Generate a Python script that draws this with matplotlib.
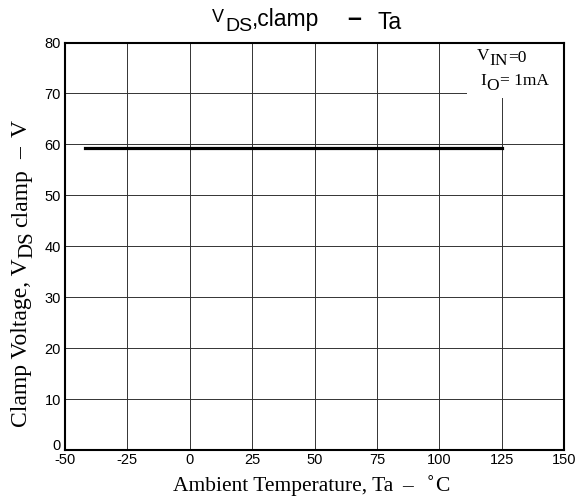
import numpy as np
from matplotlib import pyplot as plt
from matplotlib.patches import Rectangle
from matplotlib.transforms import IdentityTransform

# data
ta = [-42, 125]
vclamp = [59.2, 59.2]
xticks = [-50, -25, 0, 25, 50, 75, 100, 125, 150]
yticks = [0, 10, 20, 30, 40, 50, 60, 70, 80]

W, H = 577, 500
fig = plt.figure(figsize=(W/100, H/100), dpi=100)
ax = fig.add_axes([0.1127, 0.1, 0.8648, 0.815])
rend = fig.canvas.get_renderer()

serif = 'Liberation Serif'
sans = 'Liberation Sans'


def run(pieces, x, y, rotation=0):
    # lay text pieces one after another; x, y in image pixels (y from top) at the
    # baseline start; each piece is (text, size, gap before, drop below baseline, style)
    a = np.deg2rad(rotation)
    ux, uy = np.cos(a), np.sin(a)
    nx, ny = np.sin(a), -np.cos(a)
    y = H - y
    for s, size, gap, drop, kw in pieces:
        x += gap*ux
        y += gap*uy
        t = fig.text(x + drop*nx, y + drop*ny, s, transform=IdentityTransform(),
                     rotation=rotation, rotation_mode='anchor', ha='left',
                     va='baseline', fontsize=size, **kw)
        bb = t.get_window_extent(rend)
        w = bb.width if rotation == 0 else bb.height
        x += w*ux
        y += w*uy


ax.plot(ta, vclamp, color='black', lw=2.3, zorder=3)

ax.set_xlim(-50, 150)
ax.set_ylim(0, 80)
ax.set_xticks(xticks)
ax.set_yticks(yticks)
ax.set_xticklabels([str(v) for v in xticks], family=sans, fontsize=10.5)
ax.set_yticklabels([str(v) for v in yticks], family=sans, fontsize=10.5)
ax.get_yticklabels()[0].set_va('baseline')
ax.tick_params(axis='x', length=0, pad=2)
ax.tick_params(axis='y', length=0, pad=3)
ax.grid(True, color='#333333', lw=0.7)
ax.set_axisbelow(True)
for s in ax.spines.values():
    s.set_linewidth(1.5)

# blank patch behind the condition text
ax.add_patch(Rectangle((0.806, 0.864), 0.194, 0.136, transform=ax.transAxes,
                       facecolor='white', edgecolor='none', zorder=1.5))

rm = dict(family=serif)
sf = dict(family=sans)

# conditions
run([('V', 12.5, 0, 0, rm), ('IN', 12.5, 0, 5, rm), ('=0', 12.5, 0, 2, rm)], 477, 60)
run([('I', 12.5, 0, 0, rm), ('O', 12.5, 0, 5, rm), ('= 1mA', 12.5, 1, 0, rm)], 480, 85)

# title
run([('V', 13, 0, 0, sf), ('DS', 14, 1, 9, sf), (',clamp', 16.5, 0, 4, sf),
     ('–', 18, 28, 4, dict(family=sans, weight='bold')), ('Ta', 16.5, 16, 7, sf)],
    212, 21.7)

# x label
run([('Ambient Temperature, Ta', 15.5, 0, 0, rm), ('–', 15.5, 9, 0, rm),
     ('$^{\\circ}$C', 15.5, 12, 0, rm)],
    173, 491.5)

# y label
run([('Clamp Voltage, V', 17, 0, 0, rm), ('DS', 15, 0, 5, rm), ('clamp', 17, 5, 0, rm),
     ('–', 17, 10, 0, rm), ('V', 17, 10, 0, rm)],
    27, 427, rotation=90)

fig.savefig('out.png', dpi=100)
